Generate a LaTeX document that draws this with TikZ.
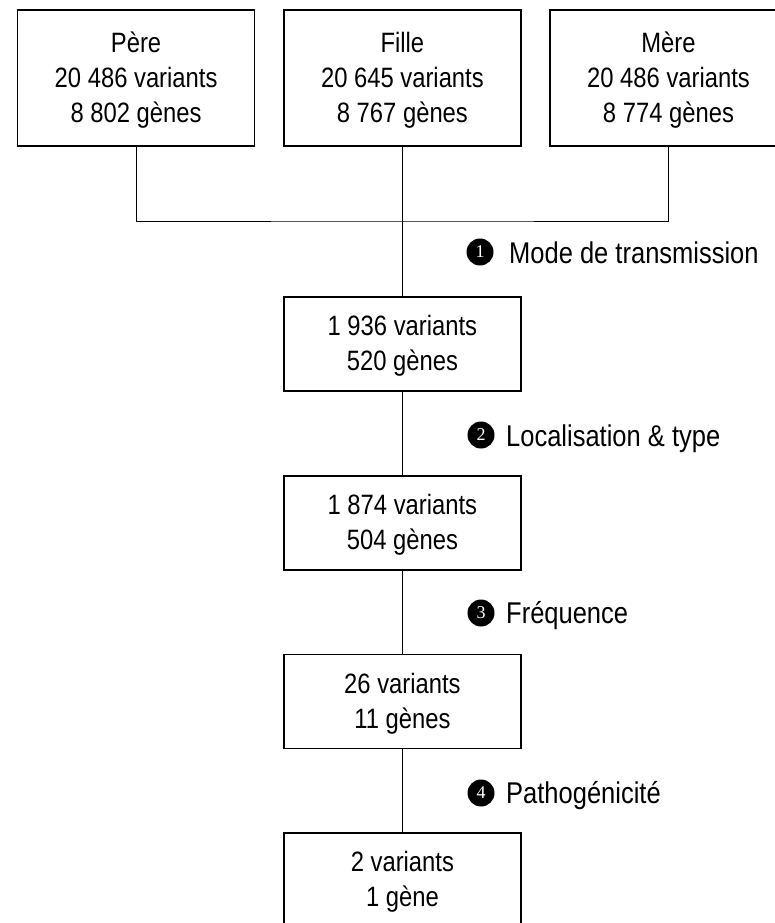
\documentclass[tikz,border=0pt]{standalone}
\usepackage{fontspec}
\setmainfont{Liberation Sans}[FakeStretch=0.85]
\newfontfamily\numfont{Liberation Serif}
\begin{document}
\begin{tikzpicture}[x=1pt,y=-1pt,
  box/.style={draw=black, line width=1.6pt, minimum width=237pt, align=center, inner sep=0pt,
    font=\fontsize{28}{35}\selectfont},
  topbox/.style={box, minimum height=136pt},
  lowbox/.style={box, minimum height=94pt},
  conn/.style={draw=black, line width=1pt},
  numc/.style={circle, fill=black, text=white, minimum size=27pt, inner sep=0pt,
    font=\numfont\fontsize{18}{18}\selectfont},
  lbl/.style={anchor=base west, inner sep=0pt, font=\fontsize{30}{36}\selectfont}]
\useasboundingbox (0,0) rectangle (775,923);
\node[topbox] (pere)  at (136.1,78) {\rule{0pt}{24pt}Père\\20 486 variants\\8 802 gènes};
\node[topbox] (fille) at (402.4,78) {\rule{0pt}{24pt}Fille\\20 645 variants\\8 767 gènes};
\node[topbox] (mere)  at (668.5,78) {\rule{0pt}{24pt}Mère\\20 486 variants\\8 774 gènes};
\node[lowbox] (b1) at (402.4,344) {\rule{0pt}{24pt}1 936 variants\\520 gènes};
\node[lowbox] (b2) at (402.4,523) {\rule{0pt}{24pt}1 874 variants\\504 gènes};
\node[lowbox] (b3) at (402.4,701.5) {\rule{0pt}{24pt}26 variants\\11 gènes};
\node[lowbox] (b4) at (402.4,880) {\rule{0pt}{24pt}2 variants\\1 gène};
\coordinate (j) at (402.4,221);
\draw[conn] (pere.south) |- (j) -| (mere.south);
\draw[conn] (fille.south) -- (b1.north);
\draw[conn] (b1.south) -- (b2.north);
\draw[conn] (b2.south) -- (b3.north);
\draw[conn] (b3.south) -- (b4.north);
\node[numc] (c1) at (480,252) {1};
\node[lbl] (l1) at (509,263) {Mode de transmission};
\node[numc] (c2) at (481,435) {2};
\node[lbl] (l2) at (506,446) {Localisation \& type};
\node[numc] (c3) at (481,613) {3};
\node[lbl] (l3) at (506,623.5) {Fréquence};
\node[numc] (c4) at (481,793) {4};
\node[lbl] (l4) at (506,803.5) {Pathogénicité};
\end{tikzpicture}
\end{document}
